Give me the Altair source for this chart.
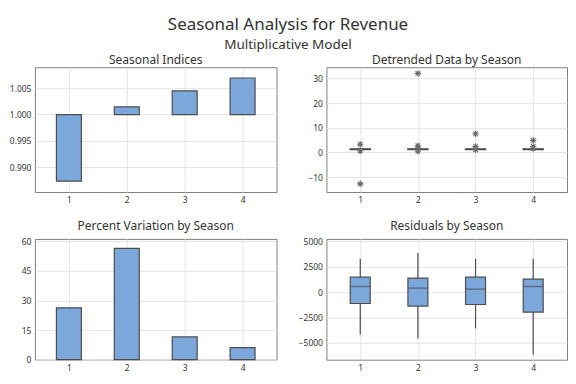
import altair as alt
import pandas as pd

FONT = "Noto Sans"
BLUE = "#7ba7da"
EDGE = "#4d4d4d"

# ---------------- data ----------------
seasons = [1, 2, 3, 4]

# Seasonal indices (bars drawn from 1.000)
seasonal_index = [0.98735, 1.00146, 1.00450, 1.00695]
index_base = [1.0, 1.0, 1.0, 1.0]

# Percent variation by season
pct_variation = [26.3, 56.4, 11.6, 6.1]

# Detrended data by season: box summaries
det_lo = [1.05, 1.05, 1.05, 1.05]
det_q1 = [1.2, 1.2, 1.2, 1.2]
det_med = [1.3, 1.3, 1.3, 1.3]
det_q3 = [1.4, 1.4, 1.4, 1.4]
det_hi = [1.55, 1.55, 1.55, 1.55]
# Detrended data outliers
det_out_season = [1, 1, 1, 2, 2, 2, 2, 3, 3, 3, 4, 4, 4]
det_out_value = [3.3, 0.6, -12.7, 32.0, 2.7, 1.8, 0.5, 7.6, 2.4, 1.1, 4.9, 2.4, 1.6]

# Residuals by season: box summaries
res_lo = [-4157, -4549, -3569, -6118]
res_q1 = [-1118, -1373, -1216, -1961]
res_med = [549, 392, 294, 549]
res_q3 = [1470, 1373, 1470, 1275]
res_hi = [3265, 3853, 3265, 3265]

# axis ticks
idx_ticks = [0.990, 0.995, 1.000, 1.005]
det_ticks = [-10, 0, 10, 20, 30]
pct_ticks = [0, 15, 30, 45, 60]
res_ticks = [-5000, -2500, 0, 2500, 5000]

idx_df = pd.DataFrame({"season": seasons, "index": seasonal_index, "base": index_base})
pct_df = pd.DataFrame({"season": seasons, "pct": pct_variation})
det_df = pd.DataFrame({"season": seasons, "lo": det_lo, "q1": det_q1, "med": det_med,
                       "q3": det_q3, "hi": det_hi})
det_out_df = pd.DataFrame({"season": det_out_season, "value": det_out_value})
res_df = pd.DataFrame({"season": seasons, "lo": res_lo, "q1": res_q1, "med": res_med,
                       "q3": res_q3, "hi": res_hi})

ASTERISK = "M-1,0L1,0M0,-1L0,1M-0.72,-0.72L0.72,0.72M-0.72,0.72L0.72,-0.72"


def xenc():
    return alt.X("season:Q",
                 scale=alt.Scale(domain=[0.5, 4.5], nice=False, zero=False),
                 axis=alt.Axis(values=seasons, format="d", title=None, grid=True,
                               ticks=False, labelPadding=4, labelOverlap=False))


def yaxis(ticks, fmt, ext):
    return alt.Axis(values=ticks, format=fmt, title=None, grid=True, ticks=False,
                    labelPadding=4, minExtent=ext, labelOverlap=False)


def yenc(field, domain, ticks, fmt, ext):
    return alt.Y(field, scale=alt.Scale(domain=domain, nice=False, zero=False),
                 axis=yaxis(ticks, fmt, ext))


def ptitle(text, offset):
    return alt.TitleParams(text, fontSize=12, font=FONT, fontWeight="normal",
                           color="#333333", anchor="middle", baseline="alphabetic",
                           offset=offset)


W = 242

# Panel 1: Seasonal indices
p1 = alt.Chart(idx_df).mark_bar(size=25, color=BLUE, stroke=EDGE, strokeWidth=1.2).encode(
    x=xenc(),
    y=yenc("index:Q", [0.9853, 1.009], idx_ticks, ".3f", 26),
    y2="base:Q",
).properties(width=W, height=125, title=ptitle("Seasonal Indices", -8.5))

# Panel 2: Detrended data boxplots
DET = dict(domain=[-16, 34.5], ticks=det_ticks, fmt="d", ext=30)
d_rule = alt.Chart(det_df).mark_rule(color=EDGE, strokeWidth=1.2).encode(
    x=xenc(), y=yenc("lo:Q", **DET), y2="hi:Q")
d_box = alt.Chart(det_df).mark_bar(size=20, color=BLUE, stroke=EDGE, strokeWidth=1.5).encode(
    x=xenc(), y=yenc("q1:Q", **DET), y2="q3:Q")
d_med = alt.Chart(det_df).mark_tick(orient="horizontal", size=20, thickness=1.5, color=EDGE).encode(
    x=xenc(), y=yenc("med:Q", **DET))
d_out = alt.Chart(det_out_df).mark_point(shape=ASTERISK, size=42, filled=False, color="#6b6b6b",
                                         strokeWidth=1.1, opacity=1).encode(
    x=xenc(), y=yenc("value:Q", **DET))
p2 = alt.layer(d_rule, d_box, d_med, d_out).properties(
    width=W - 1, height=125, title=ptitle("Detrended Data by Season", -8.5))

# Panel 3: Percent variation
p3 = alt.Chart(pct_df).mark_bar(size=25, color=BLUE, stroke=EDGE, strokeWidth=1.2).encode(
    x=xenc(),
    y=yenc("pct:Q", [0, 61.2], pct_ticks, "d", 26),
).properties(width=W, height=121, title=ptitle("Percent Variation by Season", -4.5))

# Panel 4: Residuals boxplots
RES = dict(domain=[-6640, 5225], ticks=res_ticks, fmt="d", ext=30)
r_rule = alt.Chart(res_df).mark_rule(color=EDGE, strokeWidth=1.2).encode(
    x=xenc(), y=yenc("lo:Q", **RES), y2="hi:Q")
r_box = alt.Chart(res_df).mark_bar(size=20, color=BLUE, stroke=EDGE, strokeWidth=1.2).encode(
    x=xenc(), y=yenc("q1:Q", **RES), y2="q3:Q")
r_med = alt.Chart(res_df).mark_tick(orient="horizontal", size=20, thickness=1.3, color=EDGE).encode(
    x=xenc(), y=yenc("med:Q", **RES))
p4 = alt.layer(r_rule, r_box, r_med).properties(
    width=W - 1, height=121, title=ptitle("Residuals by Season", -4.5))

chart = alt.vconcat(
    alt.hconcat(p1, p2, spacing=18),
    alt.hconcat(p3, p4, spacing=18),
    spacing=14,
).properties(
    title=alt.TitleParams("Seasonal Analysis for Revenue", subtitle="Multiplicative Model",
                          fontSize=17, subtitleFontSize=13.5, font=FONT, subtitleFont=FONT,
                          fontWeight="normal", color="#333333", subtitleColor="#333333",
                          anchor="middle", subtitlePadding=4, offset=1),
    padding={"top": 7, "left": 0, "right": 0, "bottom": 0},
).configure_view(
    stroke="#808080", strokeWidth=1
).configure_axis(
    labelFont=FONT, labelFontSize=8.5, labelColor="#333333", domain=False,
    gridColor="#e3e3e3", gridWidth=1
)

chart.save("out.html", embed_options={"renderer": "svg", "actions": False})
